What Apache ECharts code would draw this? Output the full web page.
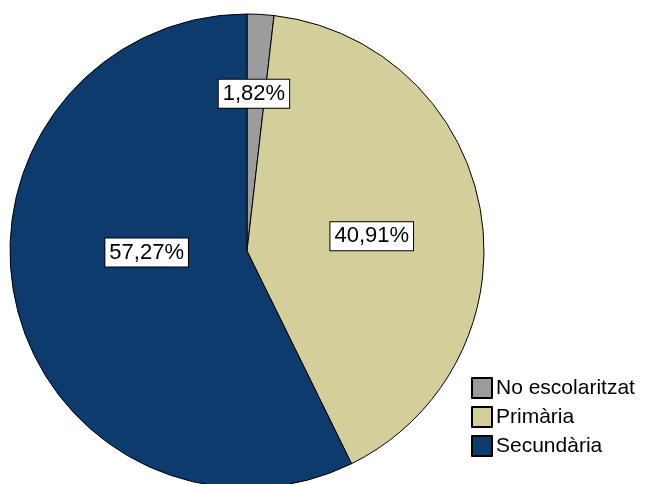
<!DOCTYPE html>
<html>
<head>
<meta charset="utf-8">
<script src="https://cdn.jsdelivr.net/npm/echarts@6/dist/echarts.min.js"></script>
<style>
  html, body { margin: 0; padding: 0; background: #fff; }
  #chart { width: 646px; height: 484px; }
</style>
</head>
<body>
<div id="chart"></div>
<script>
// Nivell d'estudis: percentatge per categoria
const categories = ['No escolaritzat', 'Primària', 'Secundària'];
const percents = [1.82, 40.91, 57.27];
const colors = ['#9c9c9c', '#d4cf9a', '#0d3b6e'];
// label nudges (px) so each box sits where it reads best inside its slice
const labelOffsets = [[0, -36], [5, 6], [18, -26]];

const fmt = v => v.toFixed(2).replace('.', ',') + '%';

const chart = echarts.init(document.getElementById('chart'), null, { renderer: 'canvas' });

chart.setOption({
  animation: false,
  backgroundColor: '#ffffff',
  legend: {
    orient: 'vertical',
    left: 471,
    top: 377,
    itemWidth: 20,
    itemHeight: 20,
    itemGap: 7,
    icon: 'rect',
    padding: 0,
    textStyle: { fontFamily: 'Liberation Sans, Arial, sans-serif', fontSize: 21, color: '#000', padding: [0, 0, 0, -1] },
    data: categories
  },
  series: [{
    type: 'pie',
    center: [247, 251],
    radius: [0, 237],
    startAngle: 90,
    clockwise: true,
    silent: true,
    itemStyle: { borderColor: '#000', borderWidth: 1 },
    label: {
      show: true,
      position: 'inside',
      formatter: p => fmt(p.value),
      fontFamily: 'Liberation Sans, Arial, sans-serif',
      fontSize: 22,
      lineHeight: 22,
      color: '#000',
      backgroundColor: '#fff',
      borderColor: '#000',
      borderWidth: 1,
      padding: [3, 4, 3, 4]
    },
    labelLine: { show: false },
    data: categories.map((name, i) => ({
      name,
      value: percents[i],
      itemStyle: { color: colors[i] },
      label: { offset: labelOffsets[i] }
    }))
  }]
});
</script>
</body>
</html>
